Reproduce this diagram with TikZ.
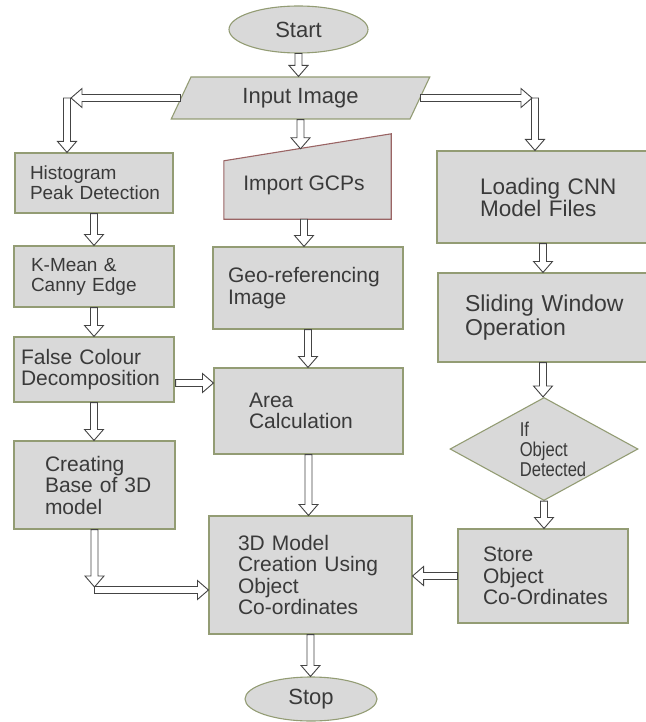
\documentclass[tikz,border=0pt]{standalone}
\usepackage{fontspec}
\setmainfont{Liberation Sans}
\usepackage{graphicx}
\usetikzlibrary{calc,shapes.geometric}
\definecolor{boxfill}{HTML}{D9D9D9}
\definecolor{boxline}{HTML}{939C74}
\definecolor{gcpline}{HTML}{9A6464}
\definecolor{textgray}{HTML}{3A3A3A}
\definecolor{arrowline}{HTML}{444444}
\hyphenpenalty=10000
\exhyphenpenalty=10000
\newcommand{\fsmall}{\fontsize{19}{20}\selectfont}
\newcommand{\fmid}{\fontsize{21}{21.5}\selectfont}
\newcommand{\fbig}{\fontsize{23}{24}\selectfont}
\newcommand{\shaftw}{3.5pt}
\newcommand{\headw}{9.5pt}
\newcommand{\headl}{11pt}
\newcommand{\narrow}[1]{\scalebox{.83}[1]{#1}}
% hollow block arrow from #1 to #2
\newcommand{\barrow}[2]{%
  \draw[blockarrow] let \p1=(#1), \p2=(#2),
    \n1={veclen(\x2-\x1,\y2-\y1)}, \n2={atan2(\y2-\y1,\x2-\x1)} in
    [shift={(\x1,\y1)}, rotate=\n2]
    (0pt,-\shaftw) -- ({\n1-\headl},-\shaftw) -- ({\n1-\headl},-\headw)
    -- ({\n1},0pt) -- ({\n1-\headl},\headw) -- ({\n1-\headl},\shaftw)
    -- (0pt,\shaftw) -- cycle;}

\begin{document}
\begin{tikzpicture}[x=1pt, y=-1pt,
    blockarrow/.style={draw=arrowline, fill=white, line width=.9pt, line join=miter},
    box/.style={draw=boxline, fill=boxfill, line width=1.1pt, text=textgray, align=left, inner ysep=0pt},
    term/.style={ellipse, draw=boxline, fill=boxfill, line width=1.1pt, text=textgray, inner sep=0pt}]

    \useasboundingbox (0,0) rectangle (645,722);

    \node (start) at (298.5,29.5) [term, minimum width=139, minimum height=47, font=\fontsize{22}{24}\selectfont] {Start};
    \node (input) at (300.5,98) [trapezium, trapezium left angle=62, trapezium right angle=118, trapezium stretches,
        draw=boxline, fill=boxfill, line width=1.1pt, text=textgray, inner sep=0pt,
        minimum width=259, minimum height=42, font=\fontsize{22}{24}\selectfont] {Input Image};

    % left column
    \node (hist) at (94,183) [box, minimum width=158, minimum height=60, inner xsep=15, text width=128, font=\fsmall] {Histogram\\Peak~Detection};
    \node (kmean) at (94,276.5) [box, minimum width=160, minimum height=61, inner xsep=17, text width=126, font=\fsmall] {K-Mean~\&\\Canny~Edge};
    \node (false) at (94,369.5) [box, minimum width=160, minimum height=65, inner xsep=7, text width=146, font=\fmid] {False~Colour\\Decomposition};
    \node (base) at (94.5,485) [box, minimum width=161, minimum height=88, inner xsep=31, text width=99, font=\fmid] {Creating\\Base~of~3D\\model};

    % middle column
    \node (gcp) at (307.5,176.5) [minimum width=167, minimum height=85, inner sep=0pt] {};
    \filldraw[draw=gcpline, fill=boxfill, line width=1.1pt]
        ($(gcp.north west)+(0,27)$) -- (gcp.north east) -- (gcp.south east) -- (gcp.south west) -- cycle;
    \node (gcptext) at (304,185) [text=textgray, font=\fmid] {Import GCPs};
    \node (geo) at (308,288) [box, minimum width=190, minimum height=82, inner xsep=15, text width=160, font=\fmid] {\mbox{Geo-referencing}\\Image};
    \node (area) at (308.5,411) [box, minimum width=189, minimum height=86, inner xsep=35, text width=119, font=\fmid] {Area\\Calculation};
    \node (model) at (310.5,575) [box, minimum width=203, minimum height=118, inner xsep=29, text width=145, font=\fmid] {3D~Model\\Creation~Using\\Object\\\mbox{Co-ordinates}};
    \node (stop) at (311,699) [term, minimum width=132, minimum height=44, font=\fontsize{22}{24}\selectfont] {Stop};

    % right column
    \node (load) at (543,197) [box, minimum width=212, minimum height=92, inner xsep=43, text width=126, font=\fontsize{22.5}{22}\selectfont] {Loading~CNN\\Model~Files};
    \node (slide) at (543,317.5) [box, minimum width=210, minimum height=89, inner xsep=27, text width=156, font=\fbig] {Sliding~Window\\Operation};
    \node (decision) at (544,449) [diamond, draw=boxline, fill=boxfill, line width=1.1pt, minimum width=188, minimum height=103, inner sep=0pt] {};
    \node (decisiontext) at (553,449) [text=textgray, align=left, inner sep=0pt, font=\fontsize{20}{20}\selectfont] {\narrow{If}\\\narrow{Object}\\\narrow{Detected}};
    \node (store) at (543,576) [box, minimum width=170, minimum height=94, inner xsep=25, text width=120, font=\fmid] {Store\\Object\\\mbox{Co-Ordinates}};

    \coordinate (lturn) at (67,98);
    \coordinate (rturn) at (535,98);
    \coordinate (bturn) at (94.5,590);

    \barrow{start.south}{start.south |- input.north}
    \barrow{lturn}{lturn |- hist.north}
    \barrow{input.west}{$(lturn)+(4,0)$}
    \barrow{rturn}{rturn |- load.north}
    \barrow{input.east}{$(rturn)+(-3,0)$}
    \barrow{input.south}{$(input.south |- gcp.north)+(0,15)$}
    \barrow{gcptext |- gcp.south}{gcptext |- geo.north}
    \barrow{hist.south}{kmean.north}
    \barrow{kmean.south}{false.north}
    \barrow{false.south}{false.south |- base.north}
    \barrow{$(false.east)+(1,13.5)$}{$(false.east -| area.west)+(0,13.5)$}
    \barrow{geo.south}{geo.south |- area.north}
    \barrow{area.south}{area.south |- model.north}
    \barrow{base.south}{$(bturn)+(0,-3)$}
    \barrow{bturn}{bturn -| model.west}
    \barrow{load.south}{load.south |- slide.north}
    \barrow{slide.south}{slide.south |- decision.north}
    \barrow{decision.south}{decision.south |- store.north}
    \barrow{store.west}{store.west -| model.east}
    \barrow{model.south}{model.south |- stop.north}

\end{tikzpicture}
\end{document}
